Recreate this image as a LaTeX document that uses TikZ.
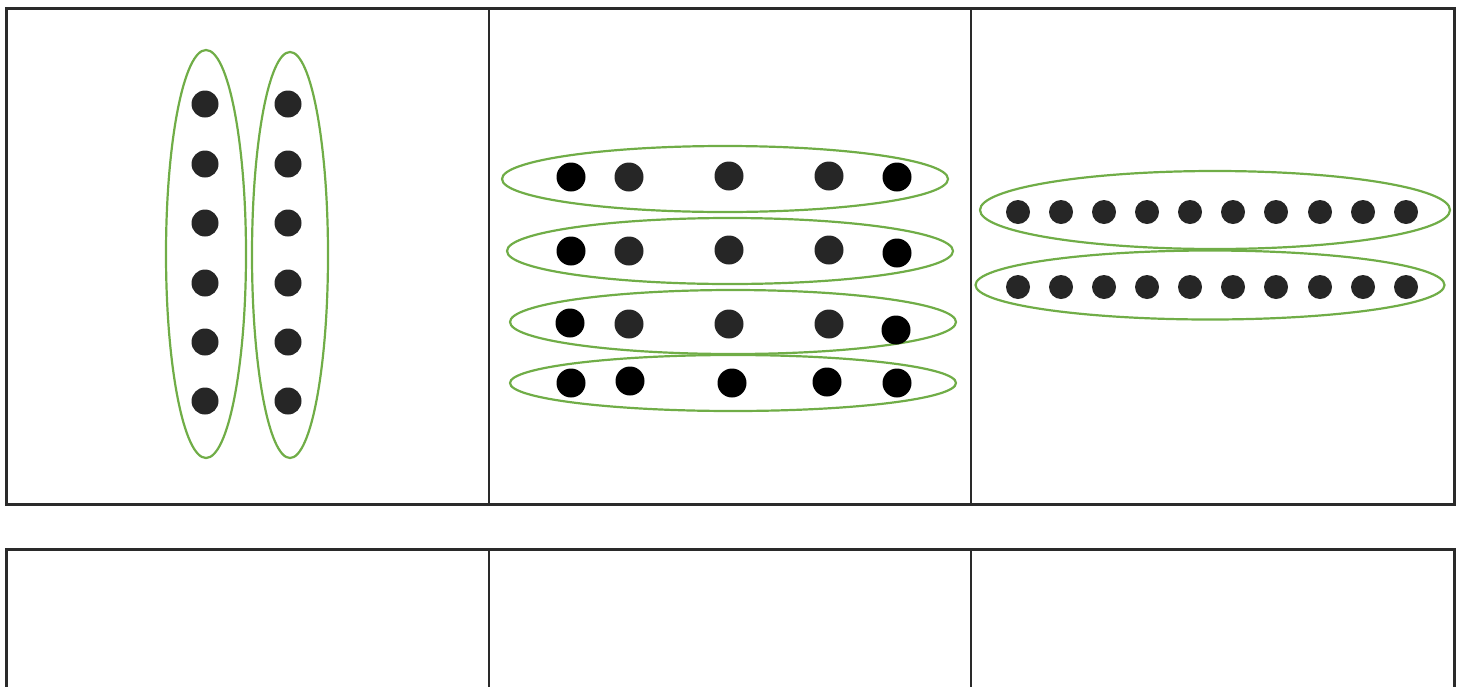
\documentclass[tikz,border=0pt]{standalone}
\usetikzlibrary{shapes.geometric}
\definecolor{grp}{HTML}{70AD47}
\definecolor{dotgray}{HTML}{262626}
\definecolor{frame}{HTML}{2A2A2A}
\tikzset{
  grayd/.style={circle,fill=dotgray,draw=none,minimum size=#1,inner sep=0pt},
  blackd/.style={circle,fill=black,draw=none,minimum size=#1,inner sep=0pt},
  grp/.style={ellipse,draw=grp,line width=2.2pt,inner sep=0pt},
  outer/.style={draw=frame,line width=3pt},
  inner/.style={draw=frame,line width=2pt},
}
\begin{document}
\begin{tikzpicture}[x=1pt,y=-1pt]
\useasboundingbox (0,0) rectangle (1465,686);
% top table
\draw[outer] (6,8) rectangle (1454,504);
\draw[inner] (489,8) -- (489,504);
\draw[inner] (971,8) -- (971,504);
% bottom table
\draw[outer] (6,690) -- (6,549) -- (1454,549) -- (1454,690);
\draw[inner] (489,549) -- (489,690);
\draw[inner] (971,549) -- (971,690);
% panel 1
\node[grp,minimum width=80,minimum height=408] (e1a) at (206,254) {};
\node[grp,minimum width=76,minimum height=406] (e1b) at (290,255) {};
\foreach \y [count=\i] in {104,164,223,283,342,401} {
  \node[grayd=27] (pa\i) at (205,\y) {};
  \node[grayd=27] (pb\i) at (288,\y) {};
}
% panel 2
\node[grp,minimum width=446,minimum height=66] (e2a) at (725,179) {};
\node[grp,minimum width=446,minimum height=66] (e2b) at (730,251) {};
\node[grp,minimum width=446,minimum height=64] (e2c) at (733,322) {};
\node[grp,minimum width=446,minimum height=56] (e2d) at (733,383) {};
\node[blackd=29] (r1a) at (571,177) {};
\node[grayd=29] (r1b) at (629,177) {};
\node[grayd=29] (r1c) at (729,176) {};
\node[grayd=29] (r1d) at (829,176) {};
\node[blackd=29] (r1e) at (897,177) {};
\node[blackd=29] (r2a) at (571,251) {};
\node[grayd=29] (r2b) at (629,251) {};
\node[grayd=29] (r2c) at (729,250) {};
\node[grayd=29] (r2d) at (829,250) {};
\node[blackd=29] (r2e) at (897,253) {};
\node[blackd=29] (r3a) at (570,323) {};
\node[grayd=29] (r3b) at (629,324) {};
\node[grayd=29] (r3c) at (729,324) {};
\node[grayd=29] (r3d) at (829,324) {};
\node[blackd=29] (r3e) at (896,330) {};
\node[blackd=29] (r4a) at (571,383) {};
\node[blackd=29] (r4b) at (630,381) {};
\node[blackd=29] (r4c) at (732,383) {};
\node[blackd=29] (r4d) at (827,382) {};
\node[blackd=29] (r4e) at (897,383) {};
% panel 3
\node[grp,minimum width=470,minimum height=78] (e3a) at (1215,210) {};
\node[grp,minimum width=469,minimum height=69] (e3b) at (1210,285) {};
\foreach \x [count=\i] in {1018,1061,1104,1147,1190,1233,1276,1320,1363,1406} {
  \node[grayd=24] (qa\i) at (\x,212) {};
  \node[grayd=24] (qb\i) at (\x,287) {};
}
\end{tikzpicture}
\end{document}
